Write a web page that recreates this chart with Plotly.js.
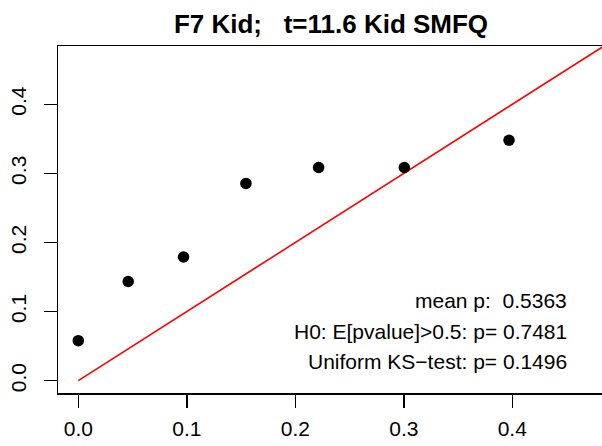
<!DOCTYPE html>
<html>
<head>
<meta charset="utf-8">
<script src="https://cdn.plot.ly/plotly-3.0.1.min.js"></script>
<style>
html, body { margin:0; padding:0; overflow:hidden; background:#fff; }
#chart { width:631px; height:446px; }
</style>
</head>
<body>
<div id="chart"></div>
<script>
// Observed points (expected vs observed p-value quantiles)
const pointsX = [0.000, 0.046, 0.097, 0.1545, 0.2215, 0.3005, 0.397];
const pointsY = [0.058, 0.1435, 0.179, 0.2855, 0.3085, 0.3085, 0.348];
// Reference line y = x
const refX = [0, 0.6];
const refY = [0, 0.6];
// Texts
const titleText = "F7 Kid;   t=11.6 Kid SMFQ";
const statLines = ["mean p:  0.5363", "H0: E[pvalue]>0.5: p= 0.7481", "Uniform KS\u2212test: p= 0.1496"];
const tickVals = [0, 0.1, 0.2, 0.3, 0.4, 0.5];
const tickText = ["0.0", "0.1", "0.2", "0.3", "0.4", "0.5"];

const W = 631, H = 446;
const FONT = "Liberation Sans, Arial, Helvetica, sans-serif";

const traces = [
  { x: refX, y: refY, mode: "lines", line: {color: "#ff0000", width: 1.6}, hoverinfo: "skip", showlegend: false, cliponaxis: true },
  { x: pointsX, y: pointsY, mode: "markers", marker: {color: "#000", size: 11.5}, showlegend: false }
];

const annY = [300, 331.5, 361.5];
const annotations = statLines.map((t, i) => ({
  text: t, xref: "paper", yref: "paper",
  x: (569 - 58) / (W - 58 - 10), y: 1 - (annY[i] - 46) / (H - 46 - 53),
  xanchor: "right", yanchor: "middle", showarrow: false,
  font: {family: FONT, size: 21, color: "#000"}
}));

const axisCommon = {
  showline: true, mirror: true, linecolor: "#000", linewidth: 1.5,
  ticks: "outside", ticklen: 13, tickwidth: 1.5, tickcolor: "#000",
  showgrid: false, zeroline: false,
  tickvals: tickVals, ticktext: tickText,
  tickfont: {family: FONT, size: 21, color: "#000"}
};

const layout = {
  width: W, height: H,
  margin: {l: 58, r: 10, t: 46, b: 53, pad: 0},
  paper_bgcolor: "#fff", plot_bgcolor: "#fff",
  title: {text: "<b>" + titleText + "</b>", xref: "container", yref: "container",
          x: 331 / W, xanchor: "center", y: 1 - 33 / H, yanchor: "bottom",
          font: {family: FONT, size: 26, color: "#000"}},
  xaxis: Object.assign({}, axisCommon, {range: [-0.0187, 0.5002], ticklabelstandoff: 3}),
  yaxis: Object.assign({}, axisCommon, {range: [-0.0178, 0.4844], tickangle: -90, ticklabelstandoff: 9}),
  annotations: annotations,
  showlegend: false
};

Plotly.newPlot("chart", traces, layout, {staticPlot: true, displayModeBar: false});
</script>
</body>
</html>
